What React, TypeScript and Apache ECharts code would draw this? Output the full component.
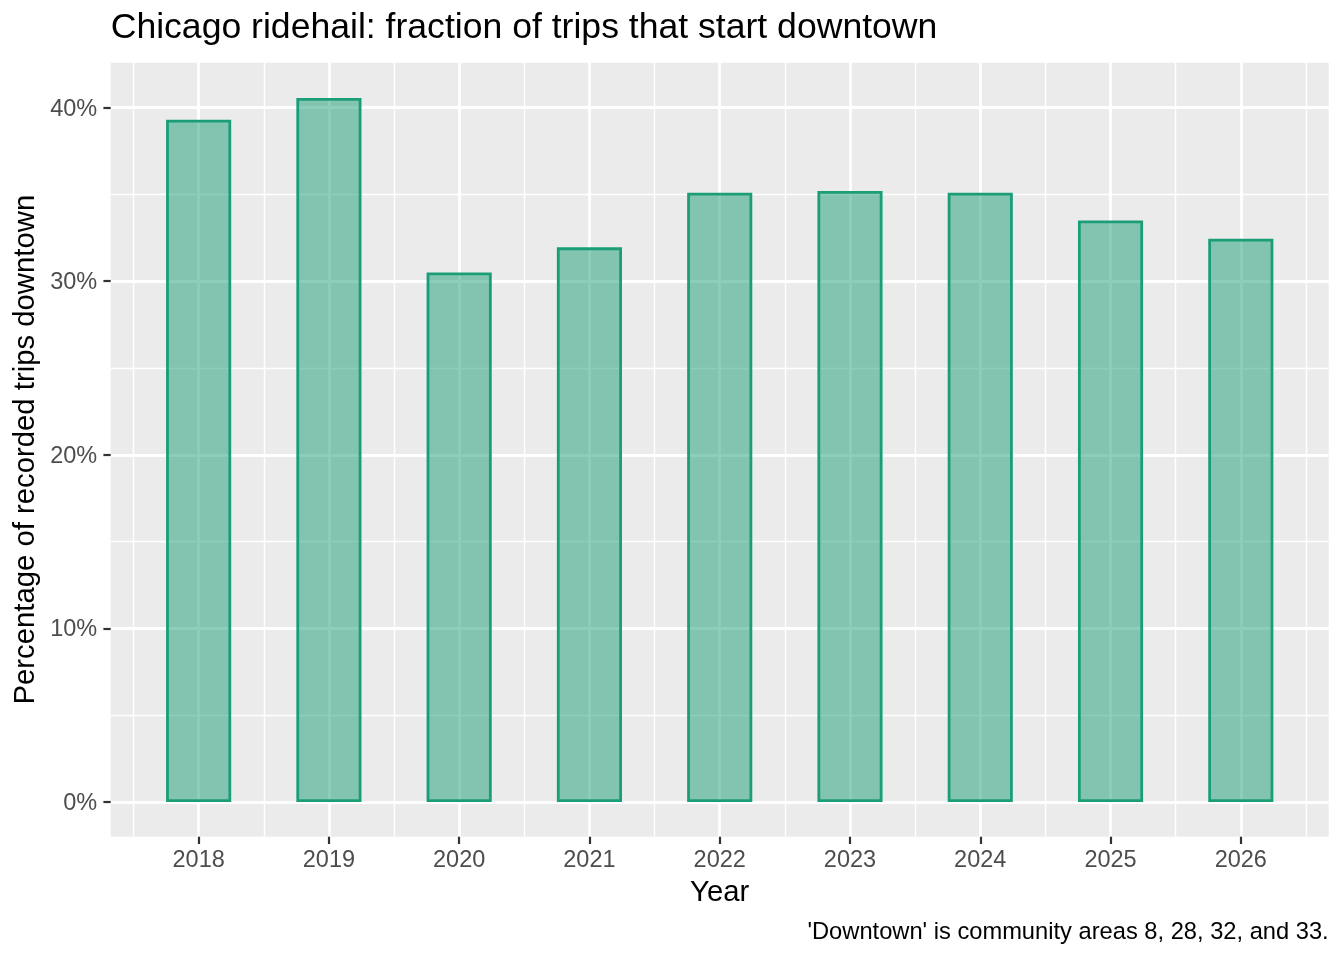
import * as echarts from "echarts";
import { useEffect, useRef } from "react";

const years = [2018, 2019, 2020, 2021, 2022, 2023, 2024, 2025, 2026];
const downtownShare = [39.3, 40.55, 30.5, 31.95, 35.1, 35.2, 35.1, 33.5, 32.45];
const pctTicks = [0, 10, 20, 30, 40];

const FONT = "Liberation Sans";
const GREEN = "#1B9E77";

// panel box (ggplot grey area) in px
const PANEL = { left: 110.7, top: 62.7, width: 1218, height: 774 };
const UNIT = 130.27; // px per year
const PCT = 17.36; // px per percent
const ZERO_Y = 802;

const App = () => {
  const chartRef = useRef<HTMLDivElement>(null);

  useEffect(() => {
    if (!chartRef.current) return;
    const myChart = echarts.init(chartRef.current, null, { renderer: "svg" });

    const firstYear = years[0];
    const lastYear = years[years.length - 1];
    const x2018 = PANEL.left + 0.675 * UNIT;
    const topPct = pctTicks[pctTicks.length - 1];
    const dataTop = ZERO_Y - topPct * PCT;

    const option = {
      animation: false,
      textStyle: { fontFamily: FONT },
      title: [
        {
          text: "Chicago ridehail: fraction of trips that start downtown",
          left: PANEL.left,
          top: 8.3,
          padding: 0,
          textStyle: { fontFamily: FONT, fontSize: 35.6, fontWeight: "normal", color: "#000" },
        },
        {
          text: "'Downtown' is community areas 8, 28, 32, and 33.",
          right: 1344 - (PANEL.left + PANEL.width),
          top: 919.2,
          padding: 0,
          textStyle: { fontFamily: FONT, fontSize: 23.7, fontWeight: "normal", color: "#000" },
        },
      ],
      grid: [
        // 0: grey panel
        {
          left: PANEL.left,
          top: PANEL.top,
          width: PANEL.width,
          height: PANEL.height,
          show: true,
          backgroundColor: "#EBEBEB",
          borderWidth: 0,
        },
        // 1: minor vertical lines (half years)
        {
          left: x2018 - 0.5 * UNIT,
          top: PANEL.top,
          width: years.length * UNIT,
          height: PANEL.height,
        },
        // 2: major vertical lines + year labels
        {
          left: x2018,
          top: PANEL.top,
          width: (lastYear - firstYear) * UNIT,
          height: PANEL.height,
        },
        // 3: horizontal lines + percent labels
        {
          left: PANEL.left,
          top: dataTop,
          width: PANEL.width,
          height: topPct * PCT,
        },
        // 4: bars
        {
          left: x2018 - 0.5 * UNIT,
          top: dataTop,
          width: years.length * UNIT,
          height: topPct * PCT,
        },
      ],
      xAxis: [
        { gridIndex: 0, type: "value", show: false, min: 0, max: 1 },
        {
          gridIndex: 1,
          type: "value",
          min: firstYear - 0.5,
          max: lastYear + 0.5,
          interval: 1,
          axisLine: { show: false },
          axisTick: { show: false },
          axisLabel: { show: false },
          splitLine: { show: true, lineStyle: { color: "#FFFFFF", width: 1.4 } },
        },
        {
          gridIndex: 2,
          type: "value",
          min: firstYear,
          max: lastYear,
          interval: 1,
          name: "Year",
          nameLocation: "middle",
          nameGap: 38.5,
          nameTextStyle: { fontFamily: FONT, fontSize: 29.3, color: "#000" },
          axisLine: { show: false },
          axisTick: { show: true, length: 7.3, lineStyle: { color: "#333333", width: 2.2 } },
          axisLabel: {
            show: true,
            margin: 10.5,
            fontFamily: FONT,
            fontSize: 23.5,
            color: "#4D4D4D",
            formatter: (v: number) => String(v),
          },
          splitLine: { show: true, lineStyle: { color: "#FFFFFF", width: 2.8 } },
        },
        { gridIndex: 3, type: "value", show: false, min: 0, max: 1 },
        { gridIndex: 4, type: "category", show: false, data: years.map(String) },
      ],
      yAxis: [
        { gridIndex: 0, type: "value", show: false, min: 0, max: 1 },
        { gridIndex: 1, type: "value", show: false, min: 0, max: 1 },
        { gridIndex: 2, type: "value", show: false, min: 0, max: 1 },
        {
          gridIndex: 3,
          type: "value",
          min: pctTicks[0],
          max: topPct,
          interval: 10,
          axisLine: { show: false },
          axisTick: { show: true, length: 7.3, lineStyle: { color: "#333333", width: 2.2 } },
          axisLabel: {
            show: true,
            margin: 13.5,
            fontFamily: FONT,
            fontSize: 23.5,
            color: "#4D4D4D",
            formatter: (v: number) => `${v}%`,
          },
          splitLine: { show: true, lineStyle: { color: "#FFFFFF", width: 2.8 } },
          minorTick: { show: false, splitNumber: 2 },
          minorSplitLine: { show: true, lineStyle: { color: "#FFFFFF", width: 1.4 } },
        },
        { gridIndex: 4, type: "value", show: false, min: pctTicks[0], max: topPct },
      ],
      graphic: [
        {
          type: "text",
          x: 23.5,
          y: PANEL.top + PANEL.height / 2,
          rotation: Math.PI / 2,
          style: {
            text: "Percentage of recorded trips downtown",
            fontFamily: FONT,
            fontSize: 29.3,
            fill: "#000",
            textAlign: "center",
            textVerticalAlign: "middle",
          },
        },
      ],
      series: [
        {
          type: "bar",
          xAxisIndex: 4,
          yAxisIndex: 4,
          data: downtownShare,
          barWidth: "50%",
          clip: false,
          itemStyle: {
            color: "rgba(27, 158, 119, 0.5)",
            borderColor: GREEN,
            borderWidth: 2.8,
          },
        },
      ],
    };

    myChart.setOption(option);

    return () => {
      myChart.dispose();
    };
  }, []);

  return <div ref={chartRef} style={{ position: "fixed", left: 0, top: 0, width: 1344, height: 960 }} />;
};

export default App;
